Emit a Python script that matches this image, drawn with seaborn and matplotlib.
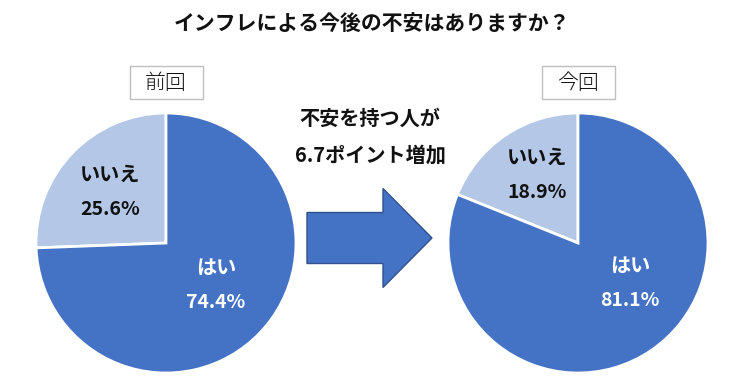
import matplotlib
matplotlib.use("Agg")
import matplotlib.pyplot as plt
import matplotlib.patches as mpatches
import seaborn as sns

# ---- data ----
title = "インフレによる今後の不安はありますか？"
categories = ["いいえ", "はい"]
prev_values = [25.6, 74.4]
curr_values = [18.9, 81.1]
panel_titles = ["前回", "今回"]
arrow_text = "不安を持つ人が\n6.7ポイント増加"

sns.set_theme(style="white")
plt.rcParams["font.family"] = ["Noto Sans CJK JP", "DejaVu Sans"]

colors = ["#B4C7E7", "#4472C4"]
text_colors = ["#111111", "white"]

W, H = 741, 389
fig = plt.figure(figsize=(W / 100, H / 100), dpi=100)
fig.patch.set_facecolor("white")

# overlay axes in pixel coordinates
ov = fig.add_axes([0, 0, 1, 1])
ov.set_xlim(0, W)
ov.set_ylim(H, 0)
ov.axis("off")

def pie_axes(cx, cy, r):
    return fig.add_axes([(cx - r) / W, (H - cy - r) / H, 2 * r / W, 2 * r / H])

# label positions (in pie units) per panel: [いいえ, はい]
label_pos = [
    [(-0.43, 0.39), (0.385, -0.32)],
    [(-0.315, 0.527), (0.40, -0.31)],
]

centers = [(166, 243), (578, 243)]
R = 130
for i, (vals, ptitle) in enumerate(zip([prev_values, curr_values], panel_titles)):
    cx, cy = centers[i]
    ax = pie_axes(cx, cy, R)
    ax.pie(vals, colors=colors, startangle=90, counterclock=True,
           wedgeprops=dict(edgecolor="white", linewidth=2))
    ax.set_xlim(-1.0, 1.0)
    ax.set_ylim(-1.0, 1.0)
    ax.set_aspect("equal")
    ax.axis("off")
    for j, (cat, v) in enumerate(zip(categories, vals)):
        x, y = label_pos[i][j]
        ax.text(x, y + 0.135, cat, ha="center", va="center", fontsize=14.5,
                fontweight="bold", color=text_colors[j])
        ax.text(x, y - 0.135, f"{v}%", ha="center", va="center", fontsize=14,
                fontweight="bold", color=text_colors[j])
    # panel title box
    ov.add_patch(mpatches.Rectangle((cx - 36.5, 66), 73, 33, facecolor="white",
                                    edgecolor="#BFBFBF", linewidth=1))
    ov.text(cx, 83, ptitle, ha="center", va="center", fontsize=15,
            color="#111111", fontweight="light")

# title
ov.text(372, 23, title, ha="center", va="center", fontsize=15,
        fontweight="bold", color="#111111")

# middle text
lines = arrow_text.split("\n")
ov.text(370, 118, lines[0], ha="center", va="center", fontsize=14.5,
        fontweight="bold", color="#111111")
ov.text(370, 155, lines[1], ha="center", va="center", fontsize=14.5,
        fontweight="bold", color="#111111")

# arrow
ov.add_patch(mpatches.FancyArrow(307, 238, 125, 0, width=51, head_width=99,
                                 head_length=49, length_includes_head=True,
                                 facecolor="#4472C4", edgecolor="#2F528F",
                                 linewidth=1))

fig.savefig("out.png", dpi=100, facecolor="white")
